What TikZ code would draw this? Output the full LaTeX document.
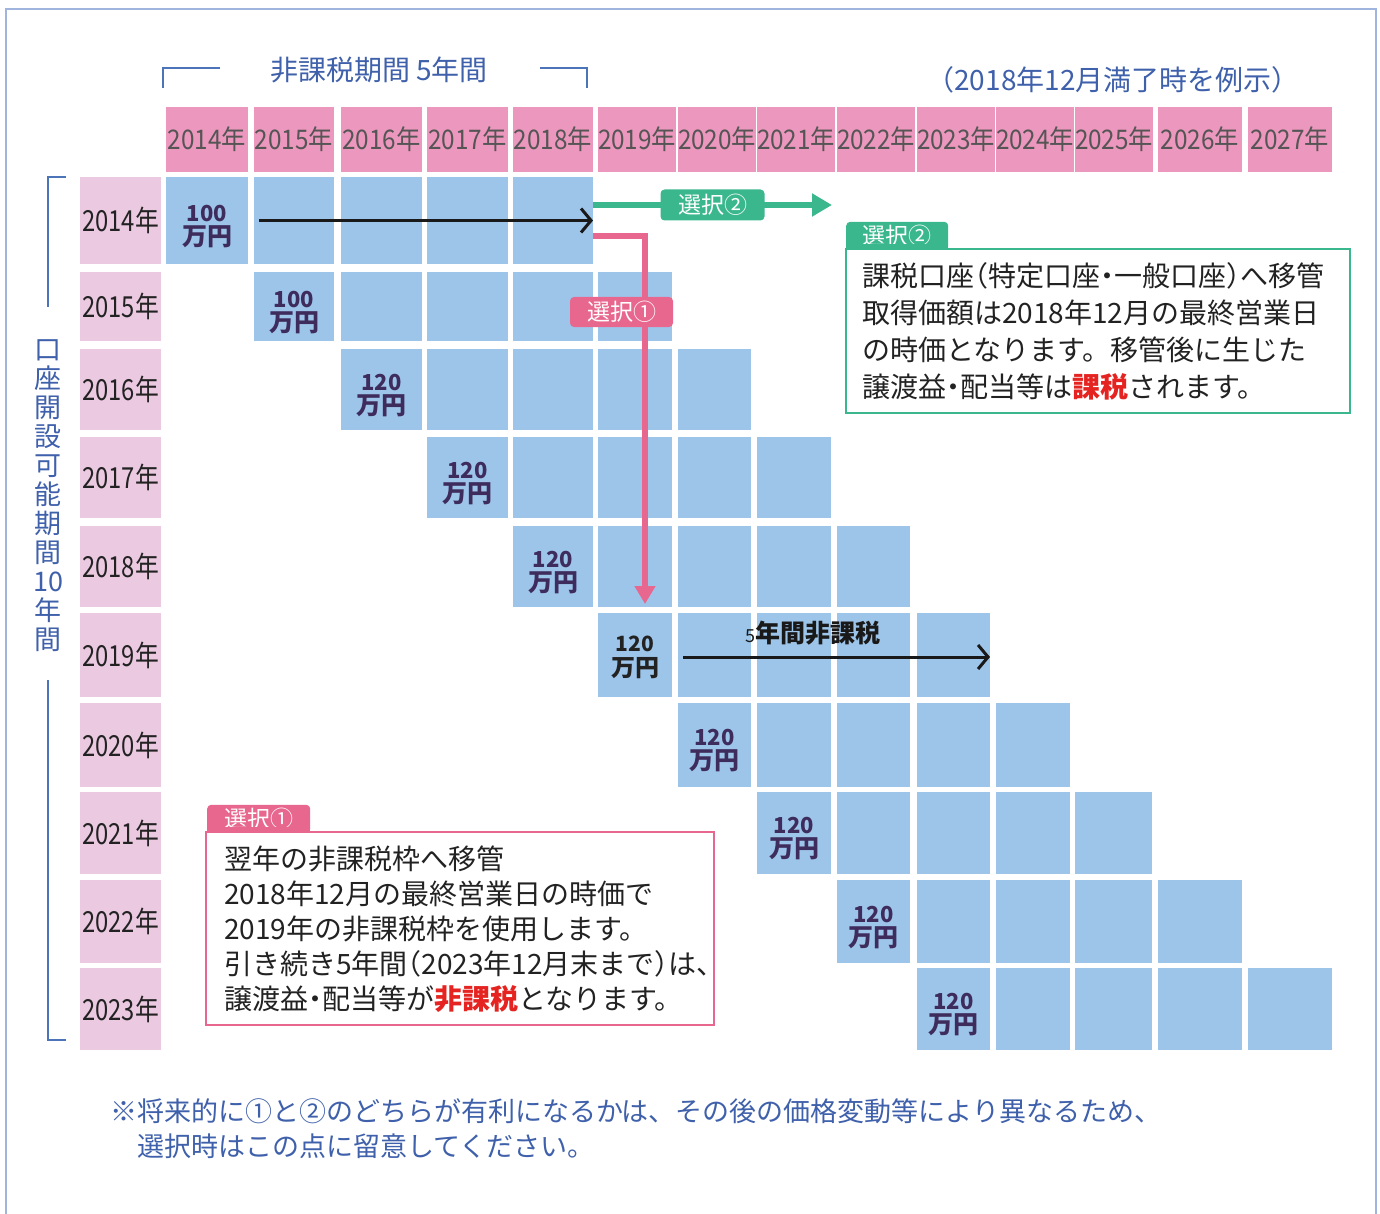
\documentclass[tikz,border=0pt]{standalone}
\usepackage{fontspec}
\setmainfont{Noto Sans CJK JP}
\newfontfamily\hdrfont[FakeStretch=0.9]{Noto Sans CJK JP}
\newfontfamily\rowfont[FakeStretch=0.82]{Noto Sans CJK JP}
\usetikzlibrary{arrows.meta,calc}
\definecolor{frameblue}{HTML}{9FB5DD}
\definecolor{brblue}{HTML}{4C74B9}
\definecolor{txtblue}{HTML}{3F60AA}
\definecolor{hdrpink}{HTML}{EC97BD}
\definecolor{rowpink}{HTML}{EAC9E1}
\definecolor{cellblue}{HTML}{9DC5EA}
\definecolor{amtpurple}{HTML}{3E2C5C}
\definecolor{selgreen}{HTML}{3BB78E}
\definecolor{selpink}{HTML}{E8678F}
\definecolor{taxred}{HTML}{E52421}
\definecolor{hdrgray}{HTML}{555555}
\definecolor{bodytxt}{HTML}{222222}
\newcommand\lpar{\makebox[0.5em][r]{（}}
\newcommand\rpar{\makebox[0.5em][l]{）}}
\newcommand\mdot{\makebox[0.5em][c]{・}}
\begin{document}
\begin{tikzpicture}[x=1pt,y=-1pt,
  box/.style={inner sep=0pt, outer sep=0pt, anchor=north west},
  hdr/.style={box, fill=hdrpink, text=hdrgray, font=\hdrfont\fontsize{27}{27}\selectfont},
  rowlab/.style={box, fill=rowpink, text=bodytxt, font=\rowfont\fontsize{29}{29}\selectfont},
  cellbox/.style={box, fill=cellblue},
  amt/.style={text=amtpurple, align=center, inner sep=0pt, font=\bfseries\fontsize{25}{24}\selectfont},
  amtb/.style={text=bodytxt, align=center, inner sep=0pt, font=\bfseries\fontsize{24}{25}\selectfont},
  tag/.style={inner sep=0pt, rounded corners=4pt, text=white, font=\fontsize{23}{23}\selectfont},
  bracket/.style={draw=brblue, line width=2.5pt},
  blackarrow/.style={draw=black!90, line width=3pt, -{Straight Barb[length=10pt,width=24pt]}},
  greenarrow/.style={draw=selgreen, line width=6pt, -{Triangle[length=20pt,width=22pt]}},
  pinkarrow/.style={draw=selpink, line width=6pt, line join=miter, -{Triangle[length=18pt,width=20pt]}},
  bodytext/.style={box, text=bodytxt, align=left, font=\fontsize{28}{37}\selectfont}
]
\useasboundingbox (0,0) rectangle (1380,1214);
\draw[frameblue, line width=2pt] (6,1214) -- (6,9) -- (1376,9) -- (1376,1214);

% header
\foreach \c in {0,...,13} {
  \pgfmathsetmacro\coll{{166,254,341,427,513,598,678,757,837,917,996,1075,1158,1248}[\c]}
  \pgfmathsetmacro\colrr{{248,334,422,508,593,672,751,831,910,990,1070,1152,1242,1332}[\c]}
  \pgfmathsetmacro\cw{\colrr-\coll}
  \pgfmathtruncatemacro\yr{2014+\c}
  \node[hdr, minimum width=\cw pt, minimum height=65pt] (h\c) at (\coll,107) {\yr 年};
}

% rows and cells
\foreach \r in {0,...,9} {
  \pgfmathsetmacro\rtop{{177,272,349,437,526,613,703,792,880,968}[\r]}
  \pgfmathsetmacro\rbot{{264,341,430,518,607,697,787,874,963,1050}[\r]}
  \pgfmathsetmacro\rh{\rbot-\rtop}
  \pgfmathtruncatemacro\yr{2014+\r}
  \node[rowlab, minimum width=81pt, minimum height=\rh pt] (r\r) at (80,\rtop) {\yr 年};
  \foreach \k in {0,...,4} {
    \pgfmathtruncatemacro\c{\r+\k}
    \pgfmathsetmacro\coll{{166,254,341,427,513,598,678,757,837,917,996,1075,1158,1248}[\c]}
    \pgfmathsetmacro\colrr{{248,334,422,508,593,672,751,831,910,990,1070,1152,1242,1332}[\c]}
    \pgfmathsetmacro\cw{\colrr-\coll}
    \node[cellbox, minimum width=\cw pt, minimum height=\rh pt] (c\r-\c) at (\coll,\rtop) {};
  }
}

% amounts
\foreach \r/\v in {0/100,1/100,2/120,3/120,4/120,6/120,7/120,8/120,9/120} {
  \node[amt] (a\r) at ([yshift=-6pt]c\r-\r.center) {{\fontsize{22}{24}\selectfont\v}\\万円};
}
\node[amtb] (a5) at ([yshift=-2pt]c5-5.center) {{\fontsize{21}{25}\selectfont 120}\\万円};

% brackets
\draw[bracket] (163,88) -- (163,68) -- (220,68);
\draw[bracket] (540,68) -- (587,68) -- (587,88);
\node[text=txtblue, font=\fontsize{28}{28}\selectfont] (title) at (379,70) {非課税期間 5年間};
\node[text=txtblue, font=\fontsize{28}{28}\selectfont] (example) at (1113,80) {\lpar 2018年12月満了時を例示\rpar};

\draw[bracket] (66,177) -- (48,177) -- (48,307);
\draw[bracket] (48,680) -- (48,1040) -- (66,1040);
\node[text=txtblue, align=center, inner sep=0pt, font=\fontsize{27}{29}\selectfont] (vlabel) at (48,496) {口\\座\\開\\設\\可\\能\\期\\間\\10\\年\\間};

% black arrows
\draw[blackarrow] ([xshift=5pt]c0-1.west) -- (c0-4.east);
\draw[blackarrow] ([xshift=5pt,yshift=-2pt]c5-6.west) -- ([yshift=-2pt]c5-9.east);
\node[text=black!90, inner sep=0pt] (fiveyr) at (813,633) {{\fontsize{18}{18}\selectfont 5}{\bfseries\fontsize{25}{25}\selectfont 年間非課税}};

% green option
\coordinate (gtip) at (832,205);
\draw[greenarrow] ([yshift=15.5pt]c0-4.east) -- node[tag, fill=selgreen, minimum width=104pt, minimum height=31pt] (gsel) {選択②} (gtip);

% pink option
\coordinate (ptip) at (645,604);
\draw[pinkarrow] ([yshift=-15.5pt]c0-4.east) -| (ptip);
\node[tag, fill=selpink, minimum width=103pt, minimum height=30pt] (psel) at (621.5,312) {選択①};

% green box
\node[box, draw=selgreen, line width=2.5pt, minimum width=504pt, minimum height=164pt] (gbox) at (846,249) {};
\node[tag, fill=selgreen, anchor=south west, minimum width=102pt, minimum height=28pt] (gtab) at (846,250) {選択②};
\fill[selgreen] (gtab.south west) rectangle ([yshift=6pt]gtab.south east);
\node[bodytext] (gtxt) at (862,263) {課税口座\lpar 特定口座\mdot 一般口座\rpar へ移管\\取得価額は2018年12月の最終営業日\\の時価となります。移管後に生じた\\譲渡益\mdot 配当等は{\bfseries\color{taxred}課税}されます。};

% pink box
\node[box, draw=selpink, line width=2.5pt, minimum width=508pt, minimum height=193pt] (pbox) at (206,832) {};
\node[tag, fill=selpink, anchor=south west, minimum width=103pt, minimum height=28pt] (ptab) at (207,833) {選択①};
\fill[selpink] (ptab.south west) rectangle ([yshift=6pt]ptab.south east);
\node[bodytext, font=\fontsize{28}{35}\selectfont] (ptxt) at (224,846) {翌年の非課税枠へ移管\\2018年12月の最終営業日の時価で\\2019年の非課税枠を使用します。\\引き続き5年間\lpar 2023年12月末まで\rpar は、\\譲渡益\mdot 配当等が{\bfseries\color{taxred}非課税}となります。};

% footer
\node[box, text=txtblue, align=left, font=\fontsize{27}{35}\selectfont] (note) at (110,1099) {※将来的に①と②のどちらが有利になるかは、その後の価格変動等により異なるため、\\\hspace*{1em}選択時はこの点に留意してください。};
\end{tikzpicture}
\end{document}
